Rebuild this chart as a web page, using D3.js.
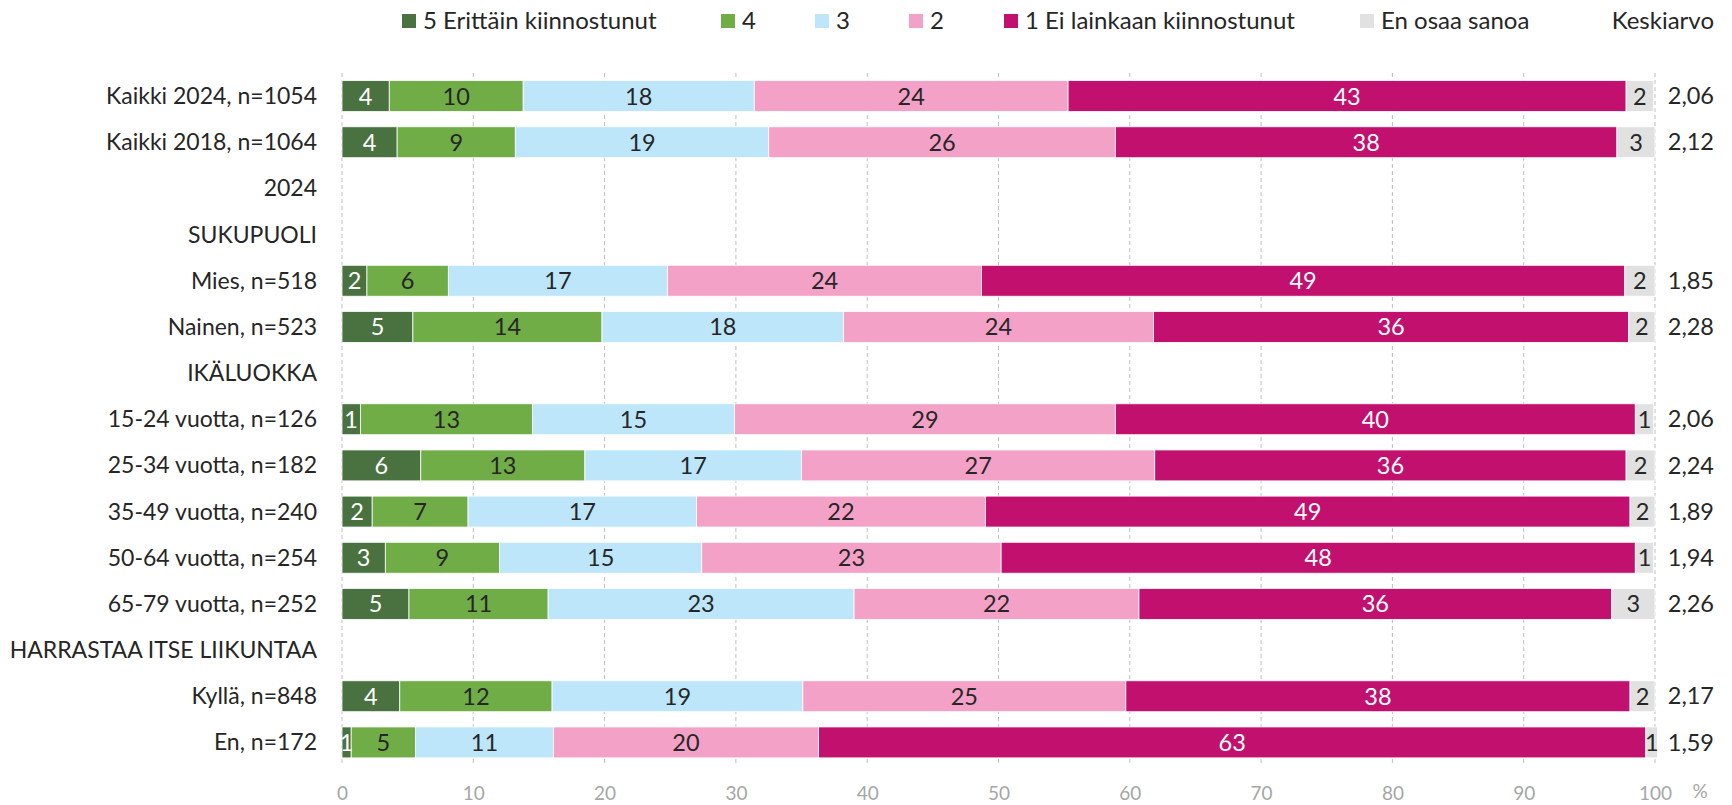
<!DOCTYPE html>
<html>
<head>
<meta charset="utf-8">
<script src="https://cdn.jsdelivr.net/npm/d3@7"></script>
<style>
  body { margin: 0; background: #fff; }
  text { font-family: Lato, "Open Sans", sans-serif; }
</style>
</head>
<body>
<div id="chart"></div>
<script>
// chart size
var width = 1732
var height = 805

// rows (header rows have no values)
var rowLabels = ["Kaikki 2024, n=1054", "Kaikki 2018, n=1064", "2024", "SUKUPUOLI",
    "Mies, n=518", "Nainen, n=523", "IKÄLUOKKA", "15-24 vuotta, n=126", "25-34 vuotta, n=182",
    "35-49 vuotta, n=240", "50-64 vuotta, n=254", "65-79 vuotta, n=252",
    "HARRASTAA ITSE LIIKUNTAA", "Kyllä, n=848", "En, n=172"]

var seriesNames = ["5 Erittäin kiinnostunut", "4", "3", "2", "1 Ei lainkaan kiinnostunut", "En osaa sanoa"]

// percentages per answer (null = header row)
var s5 = [3.6, 4.2, null, null, 1.9, 5.4, null, 1.4, 6.0, 2.3, 3.3, 5.1, null, 4.4, 0.7]
var s4 = [10.2, 9.0, null, null, 6.2, 14.4, null, 13.1, 12.5, 7.3, 8.7, 10.6, null, 11.6, 4.9]
var s3 = [17.6, 19.3, null, null, 16.7, 18.4, null, 15.4, 16.5, 17.4, 15.4, 23.3, null, 19.1, 10.5]
var s2 = [23.9, 26.4, null, null, 23.9, 23.6, null, 29.0, 26.9, 22.0, 22.8, 21.7, null, 24.6, 20.2]
var s1 = [42.5, 38.2, null, null, 49.0, 36.2, null, 39.6, 35.9, 49.1, 48.3, 36.0, null, 38.4, 63.0]
var sEos = [2.1, 2.9, null, null, 2.3, 2.0, null, 1.4, 2.2, 1.9, 1.4, 3.3, null, 1.9, 0.9]

var means = ["2,06", "2,12", null, null, "1,85", "2,28", null, "2,06", "2,24", "1,89", "1,94", "2,26", null, "2,17", "1,59"]

var ticks = [0, 10, 20, 30, 40, 50, 60, 70, 80, 90, 100]

var colors = ["#4a7140", "#70ad47", "#bde6fb", "#f4a1c8", "#c2106e", "#e1e1e1"]
var labelColors = ["#fff", "#262626", "#262626", "#262626", "#fff", "#262626"]

var svg = d3.select("#chart")
    .append("svg")
    .attr("width", width)
    .attr("height", height)

var x = d3.scaleLinear()
    .domain([0, 100])
    .range([342, 1655])

var y = d3.scaleBand()
    .domain(rowLabels)
    .range([73, 765.5])
    .paddingInner(0.33)
    .paddingOuter(0.165)

// dashed grid
svg.append("g")
    .selectAll("line")
    .data(ticks)
    .enter()
    .append("line")
    .attr("x1", function(d) { return x(d) })
    .attr("x2", function(d) { return x(d) })
    .attr("y1", 73)
    .attr("y2", 765)
    .style("stroke", "#bfbfbf")
    .style("stroke-width", 1)
    .style("stroke-dasharray", "4,3")

// x axis labels
var xAxis = svg.append("g")
    .attr("transform", "translate(0,786)")
    .call(d3.axisBottom(x).tickValues(ticks).tickSize(0).tickPadding(0))
xAxis.select(".domain").remove()
xAxis.selectAll("text")
    .style("font-size", "19px")
    .style("font-family", "Lato, sans-serif")
    .attr("fill", "#a6a6a6")
svg.append("text").attr("x", 1700).attr("y", 798).attr("text-anchor", "middle")
    .style("font-size", "19px").attr("fill", "#a6a6a6").text("%")

// row labels
svg.append("g")
    .selectAll("text")
    .data(rowLabels)
    .enter()
    .append("text")
    .attr("x", 317)
    .attr("y", function(d) { return y(d) + y.bandwidth() / 2 })
    .attr("dy", "0.35em")
    .attr("text-anchor", "end")
    .style("font-size", "23px")
    .attr("fill", "#262626")
    .text(function(d) { return d })

// stack the rows that have values
var table = rowLabels.map(function(r, i) {
    return { row: r, values: [s5[i], s4[i], s3[i], s2[i], s1[i], sEos[i]] }
}).filter(function(d) { return d.values[0] != null })

var segs = []
table.forEach(function(d) {
    var acc = 0
    d.values.forEach(function(v, k) {
        segs.push({ row: d.row, k: k, v: v, x0: acc, x1: acc + v })
        acc += v
    })
})

var segG = svg.append("g")
segG.selectAll("rect")
    .data(segs)
    .enter()
    .append("rect")
    .attr("x", function(d) { return x(d.x0) })
    .attr("width", function(d) { return x(d.x1) - x(d.x0) })
    .attr("y", function(d) { return y(d.row) })
    .attr("height", y.bandwidth())
    .style("fill", function(d) { return colors[d.k] })
    .style("stroke", "#fff")
    .style("stroke-width", 0.8)

segG.selectAll("text")
    .data(segs)
    .enter()
    .append("text")
    .attr("x", function(d) { return (x(d.x0) + x(d.x1)) / 2 })
    .attr("y", function(d) { return y(d.row) + y.bandwidth() / 2 })
    .attr("dy", "0.36em")
    .attr("text-anchor", "middle")
    .style("font-size", "23.5px")
    .attr("fill", function(d) { return labelColors[d.k] })
    .text(function(d) { return Math.round(d.v) })

// mean column
svg.append("g")
    .selectAll("text")
    .data(rowLabels.filter(function(r, i) { return means[i] != null }))
    .enter()
    .append("text")
    .attr("x", 1714)
    .attr("y", function(d) { return y(d) + y.bandwidth() / 2 })
    .attr("dy", "0.35em")
    .attr("text-anchor", "end")
    .style("font-size", "23.5px")
    .attr("fill", "#262626")
    .text(function(d) { return means[rowLabels.indexOf(d)] })

// legend
var legendX = [402, 721, 815, 909, 1004, 1360]
var legend = svg.append("g")
    .selectAll("g")
    .data(seriesNames)
    .enter()
    .append("g")
    .attr("transform", function(d, i) { return "translate(" + legendX[i] + ",21)" })
legend.append("rect")
    .attr("x", 0).attr("y", -7)
    .attr("width", 14).attr("height", 14)
    .style("fill", function(d, i) { return colors[i] })
legend.append("text")
    .attr("x", 21)
    .attr("dy", "0.35em")
    .style("font-size", "24px")
    .attr("fill", "#262626")
    .text(function(d) { return d })

svg.append("text").attr("x", 1714).attr("y", 21).attr("dy", "0.35em")
    .attr("text-anchor", "end").style("font-size", "24px").attr("fill", "#262626")
    .text("Keskiarvo")
</script>
</body>
</html>
